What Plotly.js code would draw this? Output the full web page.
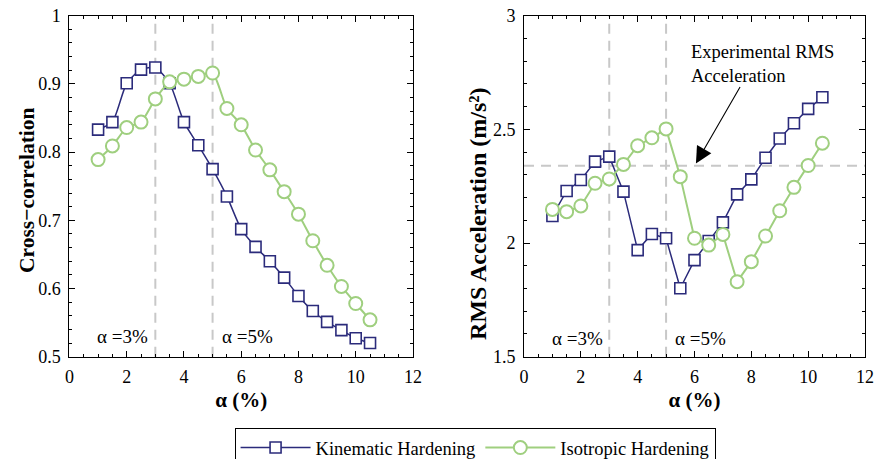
<!DOCTYPE html>
<html>
<head>
<meta charset="utf-8">
<script src="https://cdn.plot.ly/plotly-3.0.1.min.js"></script>
<style>html,body{margin:0;padding:0;background:#fff;overflow:hidden}#wrap{width:877px;height:459px;overflow:hidden}#chart{width:877px;height:470px}</style>
</head>
<body>
<div id="wrap"><div id="chart"></div></div>
<script>
// ---- data ----
const alpha = [1,1.5,2,2.5,3,3.5,4,4.5,5,5.5,6,6.5,7,7.5,8,8.5,9,9.5,10,10.5];
const ccKinematic = [0.833,0.844,0.901,0.921,0.924,0.901,0.844,0.810,0.775,0.735,0.687,0.661,0.640,0.616,0.589,0.567,0.551,0.539,0.527,0.520];
const ccIsotropic = [0.789,0.809,0.836,0.844,0.878,0.903,0.907,0.911,0.916,0.864,0.840,0.803,0.774,0.742,0.709,0.670,0.634,0.603,0.578,0.554];
const rmsKinematic = [2.119,2.229,2.277,2.358,2.380,2.226,1.969,2.040,2.021,1.801,1.925,2.009,2.091,2.214,2.280,2.375,2.460,2.527,2.590,2.641];
const rmsIsotropic = [2.148,2.138,2.163,2.263,2.282,2.346,2.428,2.463,2.502,2.292,2.021,1.991,2.038,1.830,1.918,2.031,2.142,2.245,2.341,2.439];
const refAlpha = [3,5];
const refLabels = ['α =3%','α =5%'];
const expRMS = 2.34;
const seriesNames = ['Kinematic Hardening','Isotropic Hardening'];

const navy = '#2b2b7b';
const green = '#9fcf7f';
const FONT = "'Liberation Serif', 'Times New Roman', Times, serif";
const H = 470;

function tr(x, y, name, color, sq, xa, ya, show, shape) {
  return {
    x: x, y: y, name: name, type: 'scatter', mode: 'lines+markers',
    xaxis: xa, yaxis: ya, showlegend: show,
    line: {color: color, width: sq ? 1.5 : 2, shape: shape, smoothing: 0.6},
    marker: {symbol: sq ? 'square' : 'circle', size: sq ? 11 : 13, color: '#ffffff',
             line: {color: color, width: sq ? 1.6 : 2}}
  };
}

const traces = [
  tr(alpha, ccKinematic, seriesNames[0], navy, true, 'x', 'y', true, 'spline'),
  tr(alpha, ccIsotropic, seriesNames[1], green, false, 'x', 'y', true, 'spline'),
  tr(alpha, rmsKinematic, seriesNames[0], navy, true, 'x2', 'y2', false, 'linear'),
  tr(alpha, rmsIsotropic, seriesNames[1], green, false, 'x2', 'y2', false, 'linear')
];

const dashStyle = {color: '#c8c8c8', width: 2, dash: '10px,7px'};
const shapes = [];
['x','x2'].forEach((xa, i) => {
  refAlpha.forEach(a => {
    shapes.push({type: 'line', xref: xa, yref: (i ? 'y2' : 'y') + ' domain', x0: a, x1: a, y0: 0, y1: 1, line: dashStyle, layer: 'below'});
  });
});
shapes.push({type: 'line', xref: 'x2 domain', yref: 'y2', x0: 0, x1: 1, y0: expRMS, y1: expRMS, line: dashStyle, layer: 'below'});

const yDom = [1 - 356.7 / H, 1 - 15.7 / H];

function xax(dom, anchor) {
  return {
    domain: dom, anchor: anchor, range: [0, 12], dtick: 2, tick0: 0,
    ticks: 'inside', ticklen: 6, tickcolor: '#000', mirror: 'ticks',
    showline: true, linecolor: '#000', linewidth: 1, showgrid: false, zeroline: false,
    tickfont: {family: FONT, size: 18, color: '#000'}, ticklabelstandoff: 4,
    minor: {ticks: 'inside', ticklen: 3, dtick: 0.5, tickcolor: '#000', showgrid: false},
    title: {text: '<b>α (%)</b>', font: {family: FONT, size: 21, color: '#000'}, standoff: 6}
  };
}
function yax(range, dtick, minor, anchor) {
  return {
    domain: yDom, anchor: anchor, range: range, dtick: dtick,
    ticks: 'inside', ticklen: 6, tickcolor: '#000', mirror: 'ticks',
    showline: true, linecolor: '#000', linewidth: 1, showgrid: false, zeroline: false,
    tickfont: {family: FONT, size: 18, color: '#000'}, ticklabelstandoff: 4,
    minor: {ticks: 'inside', ticklen: 3, dtick: minor, tickcolor: '#000', showgrid: false}
  };
}

const TXT = {family: FONT, size: 18.5, color: '#000'};
const annotations = [];
['x','x2'].forEach((xa, i) => {
  const ya = i ? 'y2' : 'y';
  const yv = i ? 1.582 : 0.529;
  const xs = [1.87, 6.22];
  refLabels.forEach((t, k) => {
    annotations.push({xref: xa, yref: ya, x: xs[k], y: yv, text: t, showarrow: false,
      font: {family: FONT, size: 19, color: '#000'}});
  });
});
annotations.push({xref: 'x2', yref: 'y2', x: 6.05, y: 2.35, ax: 45, ay: -78, axref: 'pixel', ayref: 'pixel',
  text: '', showarrow: true, arrowhead: 2, arrowsize: 3, arrowwidth: 1.1, arrowcolor: '#000'});
annotations.push({xref: 'x2', yref: 'y2', x: 5.8, y: 2.787, xanchor: 'left', align: 'left', showarrow: false,
  text: 'Experimental RMS<br>Acceleration', font: TXT});
annotations.push({xref: 'paper', yref: 'paper', x: 27/877, y: 1 - 190/H, xanchor: 'center', yanchor: 'middle',
  textangle: -90, showarrow: false,
  text: '<b>Cross−correlation</b>', font: {family: FONT, size: 21.5, color: '#000'}});
annotations.push({xref: 'paper', yref: 'paper', x: 478/877, y: 1 - 214/H, xanchor: 'center', yanchor: 'middle',
  textangle: -90, showarrow: false,
  text: '<b>RMS Acceleration (m/s²)</b>', font: {family: FONT, size: 24, color: '#000'}});

const layout = {
  width: 877, height: H,
  margin: {l: 0, r: 0, t: 0, b: 0},
  paper_bgcolor: '#fff', plot_bgcolor: '#fff',
  font: {family: FONT, color: '#000'},
  xaxis: xax([0.0792, 0.4709], 'y'),
  yaxis: yax([0.5, 1], 0.1, 0.02, 'x'),
  xaxis2: xax([0.5975, 0.9863], 'y2'),
  yaxis2: yax([1.5, 3], 0.5, 0.1, 'x2'),
  shapes: shapes,
  annotations: annotations,
  showlegend: true,
  legend: {orientation: 'h', x: 0.5417, xanchor: 'center', y: 1 - 428/H, yanchor: 'top',
    bordercolor: '#000', borderwidth: 1, bgcolor: '#fff',
    font: TXT, itemwidth: 70}
};

Plotly.newPlot('chart', traces, layout, {displayModeBar: false, staticPlot: true});
</script>
</body>
</html>
